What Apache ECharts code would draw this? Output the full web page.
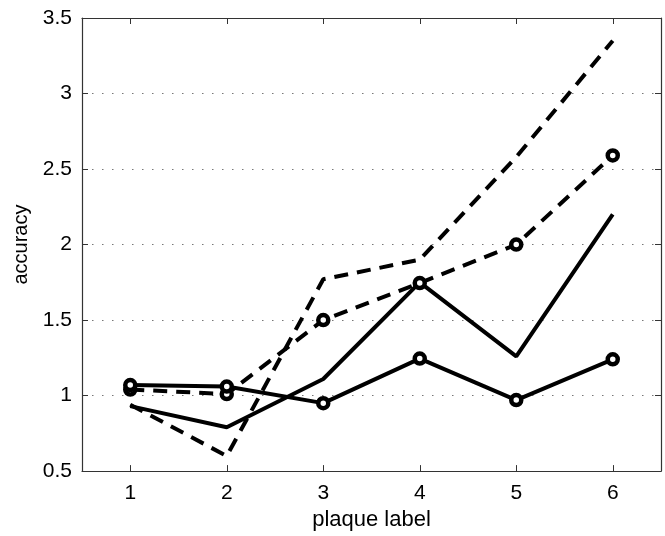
<!DOCTYPE html>
<html>
<head>
<meta charset="utf-8">
<script src="https://cdn.jsdelivr.net/npm/echarts@6/dist/echarts.min.js"></script>
<style>
  html, body { margin: 0; padding: 0; background: #fff; }
  #chart { width: 665px; height: 536px; }
</style>
</head>
<body>
<div id="chart"></div>
<script>
// categories on x
var plaques = ['1', '2', '3', '4', '5', '6'];
// y ticks 0.5 .. 3.5
var yMin = 0.5, yMax = 3.5, yStep = 0.5;

// four curves
var dashedPlain  = [0.94, 0.60, 1.77, 1.90, 2.58, 3.35];
var dashedCircle = [1.04, 1.01, 1.50, 1.745, 2.00, 2.59];
var solidPlain   = [0.93, 0.79, 1.11, 1.75, 1.26, 2.20];
var solidCircle  = [1.07, 1.06, 0.95, 1.245, 0.97, 1.24];

var chart = echarts.init(document.getElementById('chart'), null, { renderer: 'canvas' });

var font = 'Liberation Sans, Arial, Helvetica, sans-serif';
var axisCol = '#333';

// one line series
function line(name, data, dashed, marker) {
  return {
    name: name,
    type: 'line',
    data: data,
    xAxisIndex: 0,
    yAxisIndex: 0,
    symbol: marker ? 'circle' : 'none',
    symbolSize: 10,
    showSymbol: marker,
    itemStyle: { color: '#fff', borderColor: '#000', borderWidth: 4.5 },
    lineStyle: {
      color: '#000',
      width: 4,
      type: dashed ? [14, 9] : 'solid'
    },
    animation: false,
    z: marker ? 3 : 2
  };
}

var option = {
  backgroundColor: '#fff',
  animation: false,
  grid: { left: 82, right: 4, top: 18, bottom: 60, containLabel: false },
  xAxis: [
    {
      type: 'category',
      data: plaques,
      boundaryGap: true,
      name: 'plaque label',
      nameLocation: 'middle',
      nameGap: 35,
      nameTextStyle: { fontFamily: font, fontSize: 22, color: '#000' },
      axisLine: { show: true, lineStyle: { color: axisCol, width: 1.2 } },
      axisTick: { show: true, alignWithLabel: true, inside: true, length: 6, lineStyle: { color: axisCol } },
      axisLabel: { fontFamily: font, fontSize: 21, color: '#000', margin: 12 },
      splitLine: { show: false }
    },
    {
      type: 'category',
      data: plaques,
      position: 'top',
      boundaryGap: true,
      axisLine: { show: true, lineStyle: { color: axisCol, width: 1.2 } },
      axisTick: { show: true, alignWithLabel: true, inside: true, length: 6, lineStyle: { color: axisCol } },
      axisLabel: { show: false },
      splitLine: { show: false }
    }
  ],
  yAxis: [
    {
      type: 'value',
      min: yMin,
      max: yMax,
      interval: yStep,
      name: 'accuracy',
      nameLocation: 'middle',
      nameGap: 49,
      nameTextStyle: { fontFamily: font, fontSize: 20, color: '#000' },
      axisLine: { show: true, lineStyle: { color: axisCol, width: 1.2 } },
      axisTick: { show: true, inside: true, length: 6, lineStyle: { color: axisCol } },
      axisLabel: {
        fontFamily: font, fontSize: 21, color: '#000', margin: 10,
        formatter: function (v) { return String(v); }
      },
      splitLine: { show: true, lineStyle: { color: '#777', width: 1, type: [1.5, 8.5] } }
    },
    {
      type: 'value',
      min: yMin,
      max: yMax,
      interval: yStep,
      position: 'right',
      axisLine: { show: true, lineStyle: { color: axisCol, width: 1.2 } },
      axisTick: { show: true, inside: true, length: 6, lineStyle: { color: axisCol } },
      axisLabel: { show: false },
      splitLine: { show: false }
    }
  ],
  series: [
    line('dashed', dashedPlain, true, false),
    line('dashed o', dashedCircle, true, true),
    line('solid', solidPlain, false, false),
    line('solid o', solidCircle, false, true)
  ]
};

chart.setOption(option);
</script>
</body>
</html>
